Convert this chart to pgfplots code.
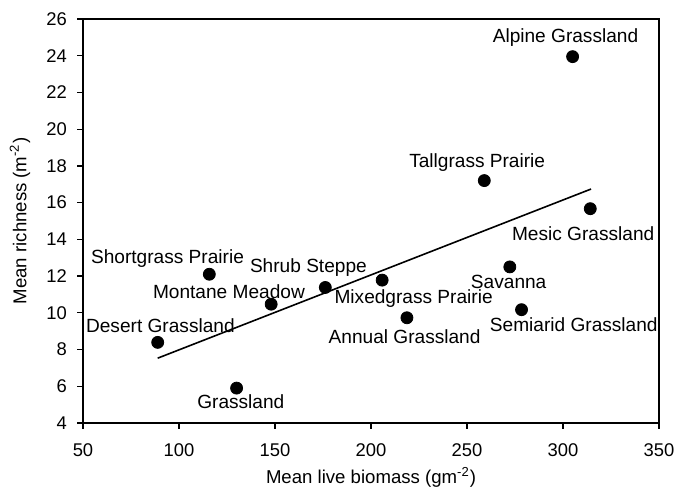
\documentclass[border=0pt]{standalone}
\usepackage{fontspec}
\setmainfont{Liberation Sans}
\usepackage{pgfplots}
\pgfplotsset{compat=1.18}
\begin{document}
\begin{tikzpicture}[font=\fontsize{9.3pt}{11pt}\selectfont]
\begin{axis}[
  name=ax,
  scale only axis,
  width=288pt, height=202pt,
  xmin=50, xmax=350, ymin=4, ymax=26,
  xtick={50,100,...,350}, ytick={4,6,...,26},
  tick align=outside, tick pos=left,
  major tick length=3pt,
  axis line style={line width=0.6pt},
  every tick/.style={black, line width=0.6pt},
  /pgf/number format/assume math mode=true,
  tick label style={font=\fontsize{9.2pt}{11pt}\selectfont},
  yticklabel style={xshift=-1.5pt},
  xticklabel style={yshift=-4pt},
  xlabel={Mean live biomass (gm\textsuperscript{-2})},
  ylabel={Mean richness (m\textsuperscript{-2})},
  xlabel style={at={(axis description cs:0.5,0)}, anchor=base, yshift=-30.5pt},
  ylabel style={at={(axis description cs:0,0.5)}, anchor=center, yshift=31.5pt},
  clip=false,
]
\addplot[only marks, mark=*, mark size=3pt, black] coordinates {
  (305,23.95) (259,17.2) (314.2,15.67) (272.3,12.5) (278.4,10.17)
  (115.8,12.1) (176.2,11.38) (205.8,11.78) (148,10.47) (88.9,8.39)
  (218.7,9.73) (130,5.9)
};
\addplot[black, line width=0.8pt] coordinates {(88.9,7.53) (314.6,16.74)};
\begin{scope}[every node/.style={font=\fontsize{9.55pt}{11pt}\selectfont, inner sep=0pt}]
\node at (axis cs:301.3,25.0) {Alpine Grassland};
\node at (axis cs:255.3,18.2) {Tallgrass Prairie};
\node at (axis cs:310.5,14.33) {Mesic Grassland};
\node at (axis cs:271.7,11.69) {Savanna};
\node at (axis cs:305.6,9.33) {Semiarid Grassland};
\node at (axis cs:94.0,12.95) {Shortgrass Prairie};
\node at (axis cs:167.4,12.46) {Shrub Steppe};
\node at (axis cs:126,11.14) {Montane Meadow};
\node at (axis cs:222.2,10.78) {Mixedgrass Prairie};
\node at (axis cs:90.3,9.32) {Desert Grassland};
\node at (axis cs:217.5,8.70) {Annual Grassland};
\node at (axis cs:132.2,5.18) {Grassland};
\end{scope}
\end{axis}
\pgfresetboundingbox
\path ([xshift=-41.5pt,yshift=-33pt]ax.south west) rectangle ([xshift=8.5pt,yshift=9.5pt]ax.north east);
\end{tikzpicture}
\end{document}
